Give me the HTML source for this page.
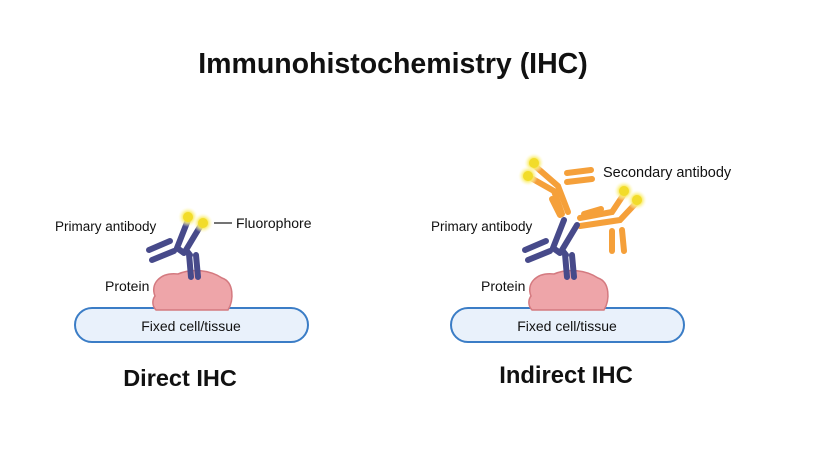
<!DOCTYPE html>
<html><head><style>
body{margin:0;background:#fff;}
svg text{font-family:"Liberation Sans",sans-serif;}
</style></head><body>
<svg width="817" height="461" viewBox="0 0 817 461" xmlns="http://www.w3.org/2000/svg">
<defs>
<radialGradient id="glow"><stop offset="0.35" stop-color="#f7e23a"/><stop offset="0.6" stop-color="#fbf080" stop-opacity="0.8"/><stop offset="1" stop-color="#fffbe0" stop-opacity="0"/></radialGradient>
<g id="fl"><circle r="10" fill="url(#glow)"/><circle r="5" fill="#f2dc2a"/></g>
<g id="prot">
<path d="M155,296 C150,284 160,272 178,274 C192,268 210,270 222,278 C234,282 234,300 228,310 L156,310 C152,306 152,300 155,296Z" fill="#eea5a9" stroke="#d47a80" stroke-width="1.5"/>
</g>
<g id="prim" stroke="#474a8a" stroke-width="6" stroke-linecap="round" fill="none">
<line x1="149" y1="250" x2="170" y2="241"/>
<line x1="152" y1="260" x2="174" y2="251"/>
<polyline points="188,220 177,248 184,253"/>
<polyline points="201,225 186,250 190,255"/>
<line x1="189" y1="254" x2="191" y2="277"/>
<line x1="196" y1="255" x2="198" y2="277"/>
</g>
</defs>
<text x="393" y="73" font-size="28.5" font-weight="bold" text-anchor="middle" fill="#111">Immunohistochemistry (IHC)</text>

<!-- Direct -->
<rect x="75" y="308" width="233" height="34" rx="17" fill="#e9f1fb" stroke="#3b7dc6" stroke-width="2"/>
<text x="191" y="331" font-size="14" text-anchor="middle" fill="#111">Fixed cell/tissue</text>
<use href="#prot"/>
<use href="#prim"/>
<use href="#fl" x="188" y="217"/>
<use href="#fl" x="203" y="223"/>
<line x1="214" y1="223" x2="232" y2="223" stroke="#222" stroke-width="1.2"/>
<text x="236" y="228" font-size="14" fill="#111">Fluorophore</text>
<text x="55" y="231" font-size="13.5" fill="#111">Primary antibody</text>
<text x="105" y="291" font-size="14" fill="#111">Protein</text>
<text x="180" y="386" font-size="23.5" font-weight="bold" text-anchor="middle" fill="#111">Direct IHC</text>

<!-- Indirect -->
<rect x="451" y="308" width="233" height="34" rx="17" fill="#e9f1fb" stroke="#3b7dc6" stroke-width="2"/>
<text x="567" y="331" font-size="14" text-anchor="middle" fill="#111">Fixed cell/tissue</text>
<g transform="translate(376,0)"><use href="#prot"/></g>
<g stroke="#f5a03a" stroke-width="6" stroke-linecap="round" fill="none">
<polyline points="535,166 558,186 568,212"/>
<polyline points="531,178 554,191 562,214"/>
<line x1="552" y1="199" x2="560" y2="215"/>
<line x1="567" y1="173" x2="591" y2="170"/>
<line x1="567" y1="182" x2="592" y2="179"/>
<polyline points="624,194 612,212 580,218"/>
<polyline points="637,202 620,220 580,226"/>
<line x1="584" y1="214" x2="601" y2="209"/>
<line x1="612" y1="231" x2="612" y2="251"/>
<line x1="622" y1="230" x2="624" y2="251"/>
</g>
<g transform="translate(376,0)"><use href="#prim"/></g>
<use href="#fl" x="534" y="163"/>
<use href="#fl" x="528" y="176"/>
<use href="#fl" x="624" y="191"/>
<use href="#fl" x="637" y="200"/>
<text x="603" y="177" font-size="14.5" fill="#111">Secondary antibody</text>
<text x="431" y="231" font-size="13.5" fill="#111">Primary antibody</text>
<text x="481" y="291" font-size="14" fill="#111">Protein</text>
<text x="566" y="383" font-size="23.8" font-weight="bold" text-anchor="middle" fill="#111">Indirect IHC</text>
</svg>
</body></html>
